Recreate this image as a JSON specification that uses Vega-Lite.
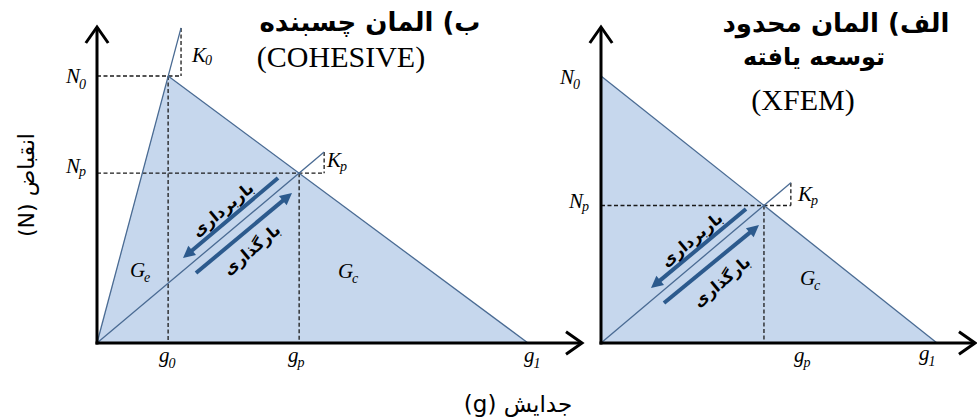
{
  "$schema": "https://vega.github.io/schema/vega-lite/v6.json",
  "padding": 0,
  "spacing": 0,
  "bounds": "flush",
  "background": "white",
  "config": {"view": {"stroke": null}, "axis": {"disable": true}},
  "datasets": {
    "segs": [
      {"p": "L", "k": "axis", "x": 0, "y": -0.006, "x2": 0, "y2": 1.1835},
      {"p": "L", "k": "axis", "x": -0.0035, "y": 0, "x2": 1.1253, "y2": 0},
      {"p": "L", "k": "solid", "x": 0, "y": 0, "x2": 0.195, "y2": 1.18},
      {"p": "L", "k": "solid", "x": 0.165, "y": 1, "x2": 1, "y2": 0},
      {"p": "L", "k": "solid", "x": 0, "y": 0, "x2": 0.527, "y2": 0.715},
      {"p": "L", "k": "dash", "x": 0, "y": 1, "x2": 0.195, "y2": 1},
      {"p": "L", "k": "dash", "x": 0.195, "y": 1.18, "x2": 0.195, "y2": 1},
      {"p": "L", "k": "dash", "x": 0.165, "y": 1, "x2": 0.165, "y2": 0},
      {"p": "L", "k": "dash", "x": 0, "y": 0.636, "x2": 0.527, "y2": 0.636},
      {"p": "L", "k": "dash", "x": 0.527, "y": 0.715, "x2": 0.527, "y2": 0.636},
      {"p": "L", "k": "dash", "x": 0.469, "y": 0.636, "x2": 0.469, "y2": 0},
      {"p": "L", "k": "blue", "x": 0.42, "y": 0.618, "x2": 0.2102, "y2": 0.3325},
      {"p": "L", "k": "blue", "x": 0.2297, "y": 0.262, "x2": 0.4417, "y2": 0.5474},
      {"p": "R", "k": "axis", "x": 0, "y": -0.006, "x2": 0, "y2": 1.1835},
      {"p": "R", "k": "axis", "x": -0.0045, "y": 0, "x2": 1.113, "y2": 0},
      {"p": "R", "k": "solid", "x": 0, "y": 1, "x2": 1, "y2": 0},
      {"p": "R", "k": "solid", "x": 0, "y": 0, "x2": 0.565, "y2": 0.6},
      {"p": "R", "k": "dash", "x": 0, "y": 0.515, "x2": 0.565, "y2": 0.515},
      {"p": "R", "k": "dash", "x": 0.565, "y": 0.6, "x2": 0.565, "y2": 0.515},
      {"p": "R", "k": "dash", "x": 0.485, "y": 0.515, "x2": 0.485, "y2": 0},
      {"p": "R", "k": "blue", "x": 0.4315, "y": 0.5019, "x2": 0.1625, "y2": 0.2206},
      {"p": "R", "k": "blue", "x": 0.1875, "y": 0.1498, "x2": 0.4565, "y2": 0.4275}
    ],
    "fill": [
      {"p": "L", "x": 0, "y": 0},
      {"p": "L", "x": 0.165, "y": 1},
      {"p": "L", "x": 1, "y": 0},
      {"p": "R", "x": 0, "y": 1},
      {"p": "R", "x": 1, "y": 0}
    ],
    "heads": [
      {"p": "L", "d": "up", "x": 0, "y": 1.1835},
      {"p": "L", "d": "right", "x": 1.1253, "y": 0},
      {"p": "L", "d": "dl", "x": 0.1995, "y": 0.318},
      {"p": "L", "d": "ur", "x": 0.4524, "y": 0.5618},
      {"p": "R", "d": "up", "x": 0, "y": 1.1835},
      {"p": "R", "d": "right", "x": 1.113, "y": 0},
      {"p": "R", "d": "dl", "x": 0.1488, "y": 0.206},
      {"p": "R", "d": "ur", "x": 0.4702, "y": 0.4419}
    ],
    "math": [
      {"p": "L", "r": "main", "t": "N", "x": -0.0719, "y": 0.9738},
      {"p": "L", "r": "sub", "t": "0", "x": -0.0418, "y": 0.9513},
      {"p": "L", "r": "main", "t": "N", "x": -0.0719, "y": 0.6367},
      {"p": "L", "r": "sub", "t": "p", "x": -0.0418, "y": 0.6255},
      {"p": "L", "r": "main", "t": "K", "x": 0.2204, "y": 1.0524},
      {"p": "L", "r": "sub", "t": "0", "x": 0.2506, "y": 1.0412},
      {"p": "L", "r": "main", "t": "K", "x": 0.5336, "y": 0.6592},
      {"p": "L", "r": "sub", "t": "p", "x": 0.5638, "y": 0.6442},
      {"p": "L", "r": "main", "t": "G", "x": 0.0766, "y": 0.2472},
      {"p": "L", "r": "sub", "t": "e", "x": 0.109, "y": 0.2285},
      {"p": "L", "r": "main", "t": "G", "x": 0.5592, "y": 0.2434},
      {"p": "L", "r": "sub", "t": "c", "x": 0.5916, "y": 0.2247},
      {"p": "L", "r": "main", "t": "g", "x": 0.1439, "y": -0.0712},
      {"p": "L", "r": "sub", "t": "0", "x": 0.1659, "y": -0.0936},
      {"p": "L", "r": "main", "t": "g", "x": 0.4432, "y": -0.0712},
      {"p": "L", "r": "sub", "t": "p", "x": 0.4652, "y": -0.0899},
      {"p": "L", "r": "main", "t": "g", "x": 0.9907, "y": -0.0712},
      {"p": "L", "r": "sub", "t": "1", "x": 1.0128, "y": -0.0936},
      {"p": "R", "r": "main", "t": "N", "x": -0.122, "y": 0.97},
      {"p": "R", "r": "sub", "t": "0", "x": -0.0833, "y": 0.9513},
      {"p": "R", "r": "main", "t": "N", "x": -0.0952, "y": 0.5056},
      {"p": "R", "r": "sub", "t": "p", "x": -0.0565, "y": 0.4944},
      {"p": "R", "r": "main", "t": "K", "x": 0.5863, "y": 0.5318},
      {"p": "R", "r": "sub", "t": "p", "x": 0.625, "y": 0.5169},
      {"p": "R", "r": "main", "t": "G", "x": 0.5923, "y": 0.2172},
      {"p": "R", "r": "sub", "t": "c", "x": 0.6339, "y": 0.1985},
      {"p": "R", "r": "main", "t": "g", "x": 0.5744, "y": -0.0712},
      {"p": "R", "r": "sub", "t": "p", "x": 0.6027, "y": -0.0899},
      {"p": "R", "r": "main", "t": "g", "x": 0.9464, "y": -0.0637},
      {"p": "R", "r": "sub", "t": "1", "x": 0.9747, "y": -0.0861}
    ],
    "words": [
      {"p": "L", "r": "title", "t": "ب)  المان چسبنده", "x": 0.6334, "y": 1.1985},
      {"p": "L", "r": "latin", "t": "(COHESIVE)", "x": 0.5661, "y": 1.0674},
      {"p": "L", "r": "along", "t": "باربرداری", "x": 0.2923, "y": 0.4981},
      {"p": "L", "r": "along", "t": "بارگذاری", "x": 0.3596, "y": 0.3483},
      {"p": "L", "r": "xlab", "t": "(g) جدایش", "x": 0.9768, "y": -0.2322},
      {"p": "L", "r": "ylab", "t": "(N) انقباض", "x": -0.1624, "y": 0.5918},
      {"p": "R", "r": "title", "t": "الف)  المان محدود", "x": 0.6994, "y": 1.1948},
      {"p": "R", "r": "title2", "t": "توسعه یافته", "x": 0.6339, "y": 1.0674},
      {"p": "R", "r": "latin", "t": "(XFEM)", "x": 0.6012, "y": 0.9064},
      {"p": "R", "r": "along", "t": "باربرداری", "x": 0.2708, "y": 0.3858},
      {"p": "R", "r": "along", "t": "بارگذاری", "x": 0.3601, "y": 0.2285}
    ]
  },
  "hconcat": [
    {
      "width": 555,
      "height": 419,
      "encoding": {
        "x": {"field": "x", "type": "quantitative", "scale": {"domain": [-0.22506, 1.06265], "nice": false, "zero": false}},
        "y": {"field": "y", "type": "quantitative", "scale": {"domain": [-0.28464, 1.28464], "nice": false, "zero": false}}
      },
      "layer": [
        {"data": {"name": "fill"}, "transform": [{"filter": "datum.p == 'L'"}], "mark": {"type": "area", "fill": "#c6d7ed", "opacity": 1}, "encoding": {"y2": {"datum": 0}}},
        {"data": {"name": "segs"}, "transform": [{"filter": "datum.p == 'L' && datum.k == 'dash'"}], "mark": {"type": "rule", "stroke": "#1a1a1a", "strokeWidth": 1.3, "strokeDash": [4, 2.5]}, "encoding": {"x2": {"field": "x2"}, "y2": {"field": "y2"}}},
        {"data": {"name": "segs"}, "transform": [{"filter": "datum.p == 'L' && datum.k == 'solid'"}], "mark": {"type": "rule", "stroke": "#4a6b93", "strokeWidth": 1.3}, "encoding": {"x2": {"field": "x2"}, "y2": {"field": "y2"}}},
        {"data": {"name": "segs"}, "transform": [{"filter": "datum.p == 'L' && datum.k == 'axis'"}], "mark": {"type": "rule", "stroke": "#000000", "strokeWidth": 3}, "encoding": {"x2": {"field": "x2"}, "y2": {"field": "y2"}}},
        {"data": {"name": "segs"}, "transform": [{"filter": "datum.p == 'L' && datum.k == 'blue'"}], "mark": {"type": "rule", "stroke": "#2c5a8d", "strokeWidth": 4}, "encoding": {"x2": {"field": "x2"}, "y2": {"field": "y2"}}},
        {"data": {"name": "heads"}, "transform": [{"filter": "datum.p == 'L' && datum.d == 'up'"}], "mark": {"type": "point", "shape": "M-1,-0.7L0,0L-1,0.7", "filled": false, "stroke": "#000000", "strokeWidth": 3, "size": 1024, "angle": 270, "opacity": 1}},
        {"data": {"name": "heads"}, "transform": [{"filter": "datum.p == 'L' && datum.d == 'right'"}], "mark": {"type": "point", "shape": "M-1,-0.7L0,0L-1,0.7", "filled": false, "stroke": "#000000", "strokeWidth": 3, "size": 1024, "angle": 0, "opacity": 1}},
        {"data": {"name": "heads"}, "transform": [{"filter": "datum.p == 'L' && datum.d == 'dl'"}], "mark": {"type": "point", "shape": "M0,0L-2,-1L-2,1Z", "filled": true, "fill": "#2c5a8d", "strokeWidth": 0, "size": 144, "angle": 140, "opacity": 1}},
        {"data": {"name": "heads"}, "transform": [{"filter": "datum.p == 'L' && datum.d == 'ur'"}], "mark": {"type": "point", "shape": "M0,0L-2,-1L-2,1Z", "filled": true, "fill": "#2c5a8d", "strokeWidth": 0, "size": 144, "angle": 320, "opacity": 1}},
        {"data": {"name": "math"}, "transform": [{"filter": "datum.p == 'L' && datum.r == 'main'"}], "mark": {"type": "text", "font": "Liberation Serif", "fontStyle": "italic", "fontSize": 21, "align": "left", "baseline": "alphabetic", "color": "#000000"}, "encoding": {"text": {"field": "t"}}},
        {"data": {"name": "math"}, "transform": [{"filter": "datum.p == 'L' && datum.r == 'sub'"}], "mark": {"type": "text", "font": "Liberation Serif", "fontStyle": "italic", "fontSize": 14, "align": "left", "baseline": "alphabetic", "color": "#000000"}, "encoding": {"text": {"field": "t"}}},
        {"data": {"name": "words"}, "transform": [{"filter": "datum.p == 'L' && datum.r == 'title'"}], "mark": {"type": "text", "font": "DejaVu Sans", "fontWeight": "bold", "fontSize": 26, "align": "center", "baseline": "middle", "color": "#000000"}, "encoding": {"text": {"field": "t"}}},
        {"data": {"name": "words"}, "transform": [{"filter": "datum.p == 'L' && datum.r == 'latin'"}], "mark": {"type": "text", "font": "Liberation Serif", "fontSize": 30, "align": "center", "baseline": "middle", "color": "#000000"}, "encoding": {"text": {"field": "t"}}},
        {"data": {"name": "words"}, "transform": [{"filter": "datum.p == 'L' && datum.r == 'along'"}], "mark": {"type": "text", "font": "DejaVu Sans", "fontWeight": "bold", "fontSize": 16, "align": "center", "baseline": "middle", "angle": 320, "color": "#000000"}, "encoding": {"text": {"field": "t"}}},
        {"data": {"name": "words"}, "transform": [{"filter": "datum.p == 'L' && datum.r == 'xlab'"}], "mark": {"type": "text", "font": "DejaVu Sans", "fontSize": 23, "align": "center", "baseline": "middle", "color": "#000000"}, "encoding": {"text": {"field": "t"}}},
        {"data": {"name": "words"}, "transform": [{"filter": "datum.p == 'L' && datum.r == 'ylab'"}], "mark": {"type": "text", "font": "DejaVu Sans", "fontSize": 22, "align": "center", "baseline": "middle", "angle": 270, "color": "#000000"}, "encoding": {"text": {"field": "t"}}}
      ]
    },
    {
      "width": 422,
      "height": 419,
      "encoding": {
        "x": {"field": "x", "type": "quantitative", "scale": {"domain": [-0.1369, 1.11905], "nice": false, "zero": false}},
        "y": {"field": "y", "type": "quantitative", "scale": {"domain": [-0.28464, 1.28464], "nice": false, "zero": false}}
      },
      "layer": [
        {"data": {"name": "fill"}, "transform": [{"filter": "datum.p == 'R'"}], "mark": {"type": "area", "fill": "#c6d7ed", "opacity": 1}, "encoding": {"y2": {"datum": 0}}},
        {"data": {"name": "segs"}, "transform": [{"filter": "datum.p == 'R' && datum.k == 'dash'"}], "mark": {"type": "rule", "stroke": "#1a1a1a", "strokeWidth": 1.3, "strokeDash": [4, 2.5]}, "encoding": {"x2": {"field": "x2"}, "y2": {"field": "y2"}}},
        {"data": {"name": "segs"}, "transform": [{"filter": "datum.p == 'R' && datum.k == 'solid'"}], "mark": {"type": "rule", "stroke": "#4a6b93", "strokeWidth": 1.3}, "encoding": {"x2": {"field": "x2"}, "y2": {"field": "y2"}}},
        {"data": {"name": "segs"}, "transform": [{"filter": "datum.p == 'R' && datum.k == 'axis'"}], "mark": {"type": "rule", "stroke": "#000000", "strokeWidth": 3}, "encoding": {"x2": {"field": "x2"}, "y2": {"field": "y2"}}},
        {"data": {"name": "segs"}, "transform": [{"filter": "datum.p == 'R' && datum.k == 'blue'"}], "mark": {"type": "rule", "stroke": "#2c5a8d", "strokeWidth": 4}, "encoding": {"x2": {"field": "x2"}, "y2": {"field": "y2"}}},
        {"data": {"name": "heads"}, "transform": [{"filter": "datum.p == 'R' && datum.d == 'up'"}], "mark": {"type": "point", "shape": "M-1,-0.7L0,0L-1,0.7", "filled": false, "stroke": "#000000", "strokeWidth": 3, "size": 1024, "angle": 270, "opacity": 1}},
        {"data": {"name": "heads"}, "transform": [{"filter": "datum.p == 'R' && datum.d == 'right'"}], "mark": {"type": "point", "shape": "M-1,-0.7L0,0L-1,0.7", "filled": false, "stroke": "#000000", "strokeWidth": 3, "size": 1024, "angle": 0, "opacity": 1}},
        {"data": {"name": "heads"}, "transform": [{"filter": "datum.p == 'R' && datum.d == 'dl'"}], "mark": {"type": "point", "shape": "M0,0L-2,-1L-2,1Z", "filled": true, "fill": "#2c5a8d", "strokeWidth": 0, "size": 144, "angle": 140, "opacity": 1}},
        {"data": {"name": "heads"}, "transform": [{"filter": "datum.p == 'R' && datum.d == 'ur'"}], "mark": {"type": "point", "shape": "M0,0L-2,-1L-2,1Z", "filled": true, "fill": "#2c5a8d", "strokeWidth": 0, "size": 144, "angle": 320, "opacity": 1}},
        {"data": {"name": "math"}, "transform": [{"filter": "datum.p == 'R' && datum.r == 'main'"}], "mark": {"type": "text", "font": "Liberation Serif", "fontStyle": "italic", "fontSize": 21, "align": "left", "baseline": "alphabetic", "color": "#000000"}, "encoding": {"text": {"field": "t"}}},
        {"data": {"name": "math"}, "transform": [{"filter": "datum.p == 'R' && datum.r == 'sub'"}], "mark": {"type": "text", "font": "Liberation Serif", "fontStyle": "italic", "fontSize": 14, "align": "left", "baseline": "alphabetic", "color": "#000000"}, "encoding": {"text": {"field": "t"}}},
        {"data": {"name": "words"}, "transform": [{"filter": "datum.p == 'R' && datum.r == 'title'"}], "mark": {"type": "text", "font": "DejaVu Sans", "fontWeight": "bold", "fontSize": 26, "align": "center", "baseline": "middle", "color": "#000000"}, "encoding": {"text": {"field": "t"}}},
        {"data": {"name": "words"}, "transform": [{"filter": "datum.p == 'R' && datum.r == 'title2'"}], "mark": {"type": "text", "font": "DejaVu Sans", "fontWeight": "bold", "fontSize": 24, "align": "center", "baseline": "middle", "color": "#000000"}, "encoding": {"text": {"field": "t"}}},
        {"data": {"name": "words"}, "transform": [{"filter": "datum.p == 'R' && datum.r == 'latin'"}], "mark": {"type": "text", "font": "Liberation Serif", "fontSize": 30, "align": "center", "baseline": "middle", "color": "#000000"}, "encoding": {"text": {"field": "t"}}},
        {"data": {"name": "words"}, "transform": [{"filter": "datum.p == 'R' && datum.r == 'along'"}], "mark": {"type": "text", "font": "DejaVu Sans", "fontWeight": "bold", "fontSize": 16, "align": "center", "baseline": "middle", "angle": 320, "color": "#000000"}, "encoding": {"text": {"field": "t"}}}
      ]
    }
  ]
}
